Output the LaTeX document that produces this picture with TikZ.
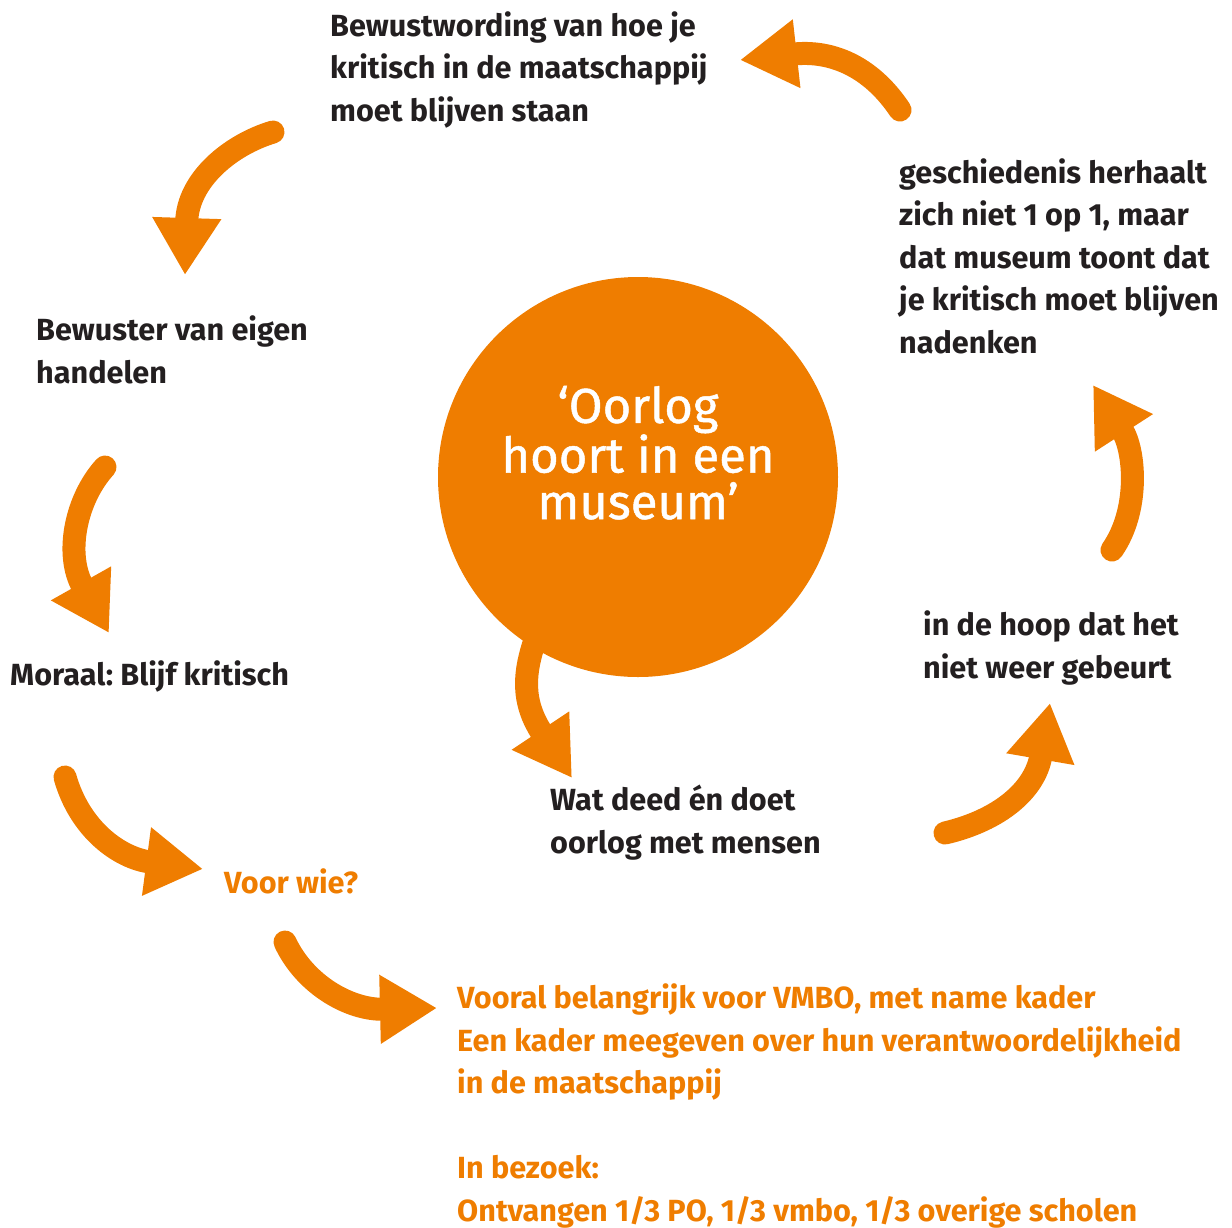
\documentclass[tikz,border=0pt]{standalone}
\usepackage{fontspec}
\setmainfont{Fira Sans}
\newfontfamily\circfont[FakeBold=1]{Fira Sans}
\usetikzlibrary{arrows.meta}
\definecolor{org}{RGB}{239,125,0}
\definecolor{txt}{RGB}{35,31,32}
\frenchspacing
\begin{document}
\begin{tikzpicture}[x=1pt,y=-1pt,
  lbl/.style={anchor=base west, align=left, inner sep=0pt, text=txt,
    font=\fontsize{30.6}{42.5}\selectfont\bfseries},
  olbl/.style={lbl, text=org},
  arr/.style={draw=org, line width=23pt, line cap=round,
    -{Triangle[length=57pt,width=65pt]}}]
\useasboundingbox (0,0) rectangle (1232,1227);

% arrows
\coordinate (a1s) at (900,110); \coordinate (a1e) at (740,60);
\draw[arr] (a1s) .. controls (870,65) and (830,50) .. (a1e);
\coordinate (a2s) at (273,132); \coordinate (a2e) at (185,275);
\draw[arr] (a2s) .. controls (230,145) and (188,180) .. (a2e);
\coordinate (a3s) at (105,467); \coordinate (a3e) at (109,633);
\draw[arr] (a3s) .. controls (75,500) and (65,555) .. (a3e);
\coordinate (a4s) at (535,640); \coordinate (a4e) at (572,778);
\draw[arr] (a4s) .. controls (525,670) and (520,700) .. (a4e);
\coordinate (a5s) at (65,777); \coordinate (a5e) at (203,869);
\draw[arr] (a5s) .. controls (80,830) and (120,858) .. (a5e);
\coordinate (a6s) at (285,942); \coordinate (a6e) at (437,1008);
\draw[arr] (a6s) .. controls (305,985) and (350,1010) .. (a6e);
\coordinate (a7s) at (945,833); \coordinate (a7e) at (1050,703);
\draw[arr] (a7s) .. controls (1000,820) and (1035,790) .. (a7e);
\coordinate (a8s) at (1112,550); \coordinate (a8e) at (1093,385);
\draw[arr] (a8s) .. controls (1140,510) and (1135,450) .. (a8e);

% centre circle
\node[circle, fill=org, minimum size=400pt, inner sep=0pt] (c) at (638,477) {};
\node[anchor=base, align=center, inner sep=0pt, text=white,
  font=\fontsize{49}{46.5}\selectfont\circfont] (ct) at (638,519)
  {‘Oorlog\\hoort in een\\museum’};

% labels (anchor = baseline of the last line)
\node[lbl] (t1) at (330,121) {Bewustwording van hoe je\\kritisch in de maatschappij\\moet blijven staan};
\node[lbl] (t2) at (899,353) {geschiedenis herhaalt\\zich niet 1 op 1, maar\\dat museum toont dat\\je kritisch moet blijven\\nadenken};
\node[lbl] (t3) at (36,383) {Bewuster van eigen\\handelen};
\node[lbl] (t4) at (10,685) {Moraal: Blijf kritisch};
\node[lbl] (t5) at (550,853) {Wat deed én doet\\oorlog met mensen};
\node[lbl] (t6) at (923,678) {in de hoop dat het\\niet weer gebeurt};
\node[olbl] (t7) at (224,893) {Voor wie?};
\node[olbl] (t8) at (457,1221) {Vooral belangrijk voor VMBO, met name kader\\Een kader meegeven over hun verantwoordelijkheid\\in de maatschappij\\[42.5pt]In bezoek:\\Ontvangen 1/3 PO, 1/3 vmbo, 1/3 overige scholen};
\end{tikzpicture}
\end{document}
